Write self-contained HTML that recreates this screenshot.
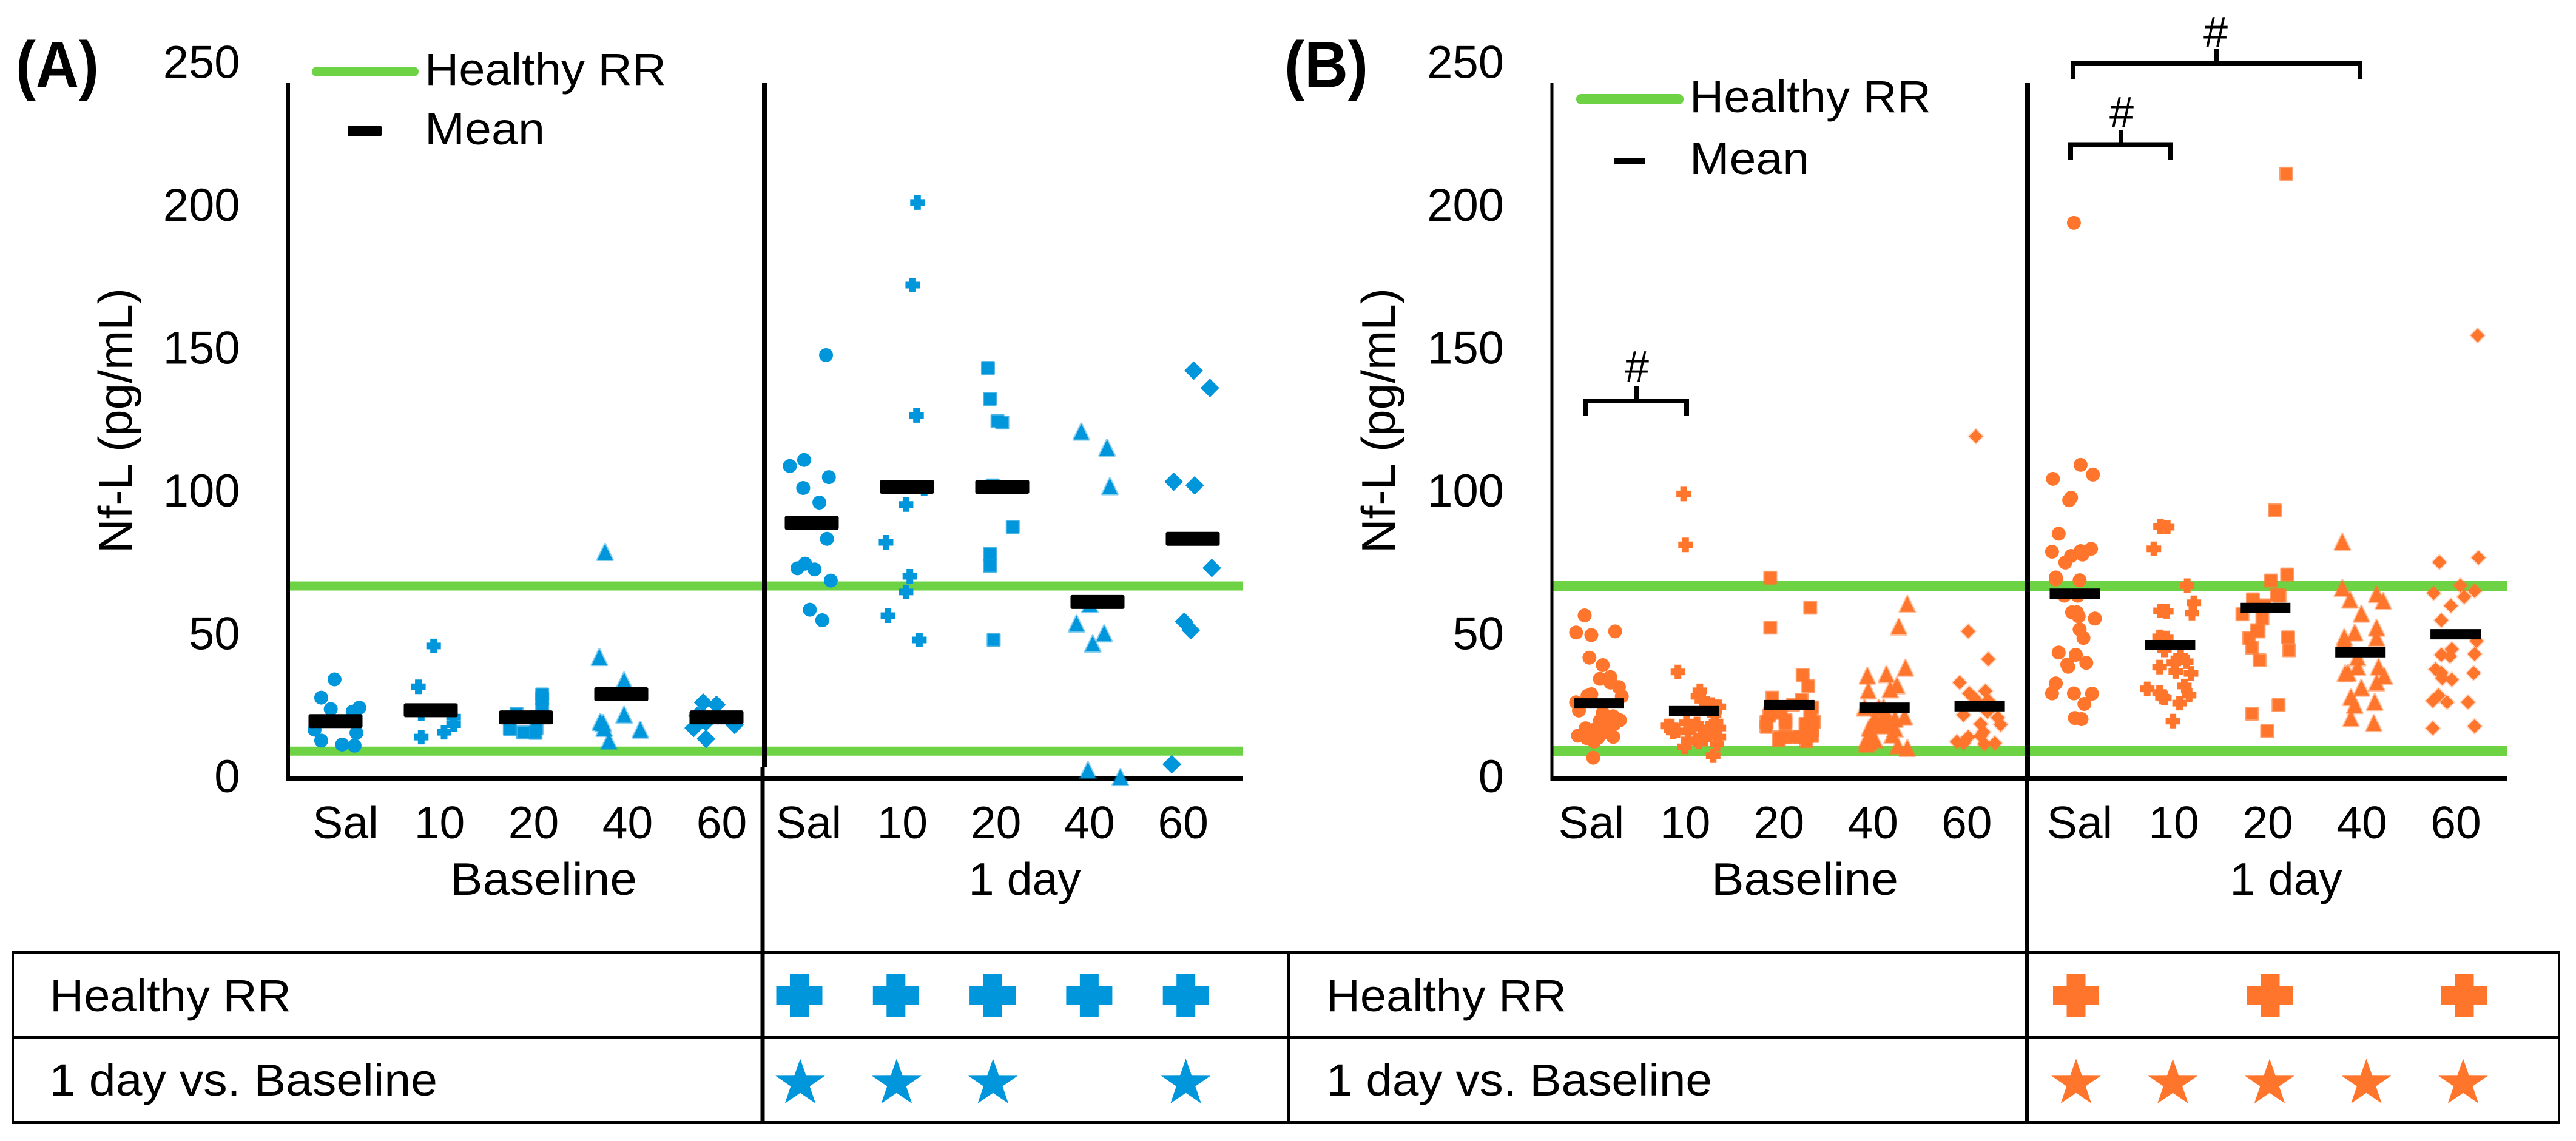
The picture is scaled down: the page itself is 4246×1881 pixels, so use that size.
<!DOCTYPE html>
<html lang="en">
<head>
<meta charset="utf-8">
<title>Nf-L (pg/mL) at baseline and 1 day</title>
<style>
html,body{margin:0;padding:0;background:#fff;}
svg{display:block;}
text{font-family:"Liberation Sans",sans-serif;fill:#000;}
</style>
</head>
<body>
<svg id="figure" xmlns="http://www.w3.org/2000/svg" width="4246" height="1881" viewBox="0 0 4246 1881">
<rect x="0" y="0" width="4246" height="1881" fill="#fff"/>
<g id="gridLayer"></g>
<g id="axisLayer"></g>
<g id="markLayer"></g>
<g id="meanLayer"></g>

<text x="26" y="143.5" font-size="108" font-weight="700" textLength="137" lengthAdjust="spacingAndGlyphs">(A)</text>
<text x="2117" y="143.5" font-size="108" font-weight="700" textLength="138" lengthAdjust="spacingAndGlyphs">(B)</text>
<text transform="translate(217,693.5) rotate(-90)" text-anchor="middle" font-size="78" textLength="437" lengthAdjust="spacingAndGlyphs">Nf-L (pg/mL)</text>
<text transform="translate(2299,693.5) rotate(-90)" text-anchor="middle" font-size="78" textLength="437" lengthAdjust="spacingAndGlyphs">Nf-L (pg/mL)</text>

<text x="896" y="1475" text-anchor="middle" font-size="75" textLength="308" lengthAdjust="spacingAndGlyphs">Baseline</text>
<text x="1689" y="1475" text-anchor="middle" font-size="75" textLength="185" lengthAdjust="spacingAndGlyphs">1 day</text>
<text x="2975" y="1475" text-anchor="middle" font-size="75" textLength="308" lengthAdjust="spacingAndGlyphs">Baseline</text>
<text x="3768" y="1475" text-anchor="middle" font-size="75" textLength="185" lengthAdjust="spacingAndGlyphs">1 day</text>

<g>
<rect x="514" y="110" width="176" height="16" rx="8" fill="#6ED344"/>
<text x="700" y="140" font-size="74" textLength="398" lengthAdjust="spacingAndGlyphs">Healthy RR</text>
<rect x="573" y="207" width="56" height="18" rx="3" fill="#000"/>
<text x="700" y="238" font-size="74" textLength="198" lengthAdjust="spacingAndGlyphs">Mean</text>
</g>
<g>
<rect x="2598" y="155" width="177" height="17" rx="8" fill="#6ED344"/>
<text x="2785" y="185" font-size="74" textLength="398" lengthAdjust="spacingAndGlyphs">Healthy RR</text>
<rect x="2661" y="260" width="50" height="10" fill="#000"/>
<text x="2785" y="287" font-size="74" textLength="197" lengthAdjust="spacingAndGlyphs">Mean</text>
</g>

<g>
<path d="M2614 686V661H2780V686M2697 661V636.5" fill="none" stroke="#000" stroke-width="8"/>
<text x="2698" y="629" text-anchor="middle" font-size="72">#</text>
<path d="M3417 130V105H3890V130M3653 105V81" fill="none" stroke="#000" stroke-width="8"/>
<text x="3652" y="78" text-anchor="middle" font-size="72">#</text>
<path d="M3413 263V238.5H3578V263M3496 238.5V214" fill="none" stroke="#000" stroke-width="8"/>
<text x="3497" y="210" text-anchor="middle" font-size="72">#</text>
</g>

<g>
<rect x="21" y="1568" width="4199" height="5" fill="#000"/>
<rect x="21" y="1708" width="4199" height="5" fill="#000"/>
<rect x="21" y="1848" width="4199" height="5" fill="#000"/>
<rect x="20" y="1568" width="3" height="285" fill="#000"/>
<rect x="2121" y="1568" width="5" height="285" fill="#000"/>
<rect x="4216" y="1568" width="4" height="285" fill="#000"/>
<text x="82" y="1667" font-size="74" textLength="398" lengthAdjust="spacingAndGlyphs">Healthy RR</text>
<text x="81" y="1806" font-size="74" textLength="640" lengthAdjust="spacingAndGlyphs">1 day vs. Baseline</text>
<text x="2186" y="1667" font-size="74" textLength="396" lengthAdjust="spacingAndGlyphs">Healthy RR</text>
<text x="2186" y="1806" font-size="74" textLength="636" lengthAdjust="spacingAndGlyphs">1 day vs. Baseline</text>
<g id="tableIcons"></g>
</g>

<rect x="1256" y="137" width="8" height="1128" fill="#000"/>
<rect x="1253.5" y="1264" width="7" height="588" fill="#000"/>
<rect x="3338" y="137" width="8" height="1150" fill="#000"/>
<rect x="3338" y="1287" width="7" height="565" fill="#000"/>
</svg>

<script>
// ---------- shared data ----------
const categories = ['Sal', '10', '20', '40', '60'];
const tickValues = [0, 50, 100, 150, 200, 250];
const healthyRange = [9.5, 67.3];
const shapes = ['circle', 'cross', 'square', 'triangle', 'diamond'];

// ---------- panel A means ----------
const meansA = [20, 23.8, 21.3, 29.4, 21.3, 89.4, 102, 102, 61.7, 83.8];
// ---------- panel B means ----------
const meansB = [26.2, 23.5, 25.6, 24.7, 25.2, 64.6, 46.6, 59.6, 44.1, 50.4];

// ---------- panel A values (pg/mL) and horizontal jitter (% of category band) ----------
const aBaseSalVal = [34.6,28.2,24.2,24.7,23.3,17,15.9,13.2,11.8,11.4];
const aBaseSalJit = [-1,-15,-5,25,18,-22,22,-15,7,20];
const aBase10Val = [46.3,32,14.4,16.1,18.8,21.4,22.6];
const aBase10Jit = [3,-13,-10,14,24,24,-10];
const aBase20Val = [29.3,27.8,24.4,22.5,17.3,16,15.9,17.6,21.5];
const aBase20Jit = [17,17,17,-10,-17,-3,10,11,11];
const aBase40Val = [42.4,34.2,22.2,17,19.7,19.3,17.6,13,79.2];
const aBase40Jit = [-23,3,3,20,-22,-19,-18,-13,-17];
const aBase60Val = [26.5,25.7,21.9,17.6,13.8,18.7,19.7];
const aBase60Jit = [-14,0,-20,-24,-11,19,-11];
const aDaySalVal = [148.1,111.4,109.3,105.4,101.6,96.5,83.8,73.5,75.1,73.1,69.2,59,55.3];
const aDaySalJit = [15,-8,-23,18,-9,8,16,-15,-7,3,20,-2,11];
const aDay10Val = [201.5,172.6,127,101.3,95.8,82.6,70.7,65.2,56.9,48.4];
const aDay10Jit = [11,6,10,18,-1,-22,3,-1,-20,13];
const aDay20Val = [143.6,132.8,125,124.5,102.5,88,78.5,74.3,48.4];
const aDay20Jit = [-15,-13,-5,0,-10,11,-13,-13,-9];
const aDay40Val = [121.3,115.7,102.2,60.9,54.1,50.7,47.1,2.8,0.4];
const aDay40Jit = [-17,10,13,-8,-22,7,-5,-10,24];
const aDay60Val = [142.7,136.6,103.8,102.5,73.6,54.8,51.8,4.9];
const aDay60Jit = [1,18,-20,2,20,-9,-2,-22];

// ---------- panel B values and jitter ----------
const bBaseSalVal = [57,51,50.1,51.4,42.2,39.6,34.8,35.4,33.5,31.9,28.7,28.9,29.4,26.6,23.7,22.9,21.7,20.3,20.1,19,17.5,16.9,17.6,14.9,14.1,14.5,12.9,7.2,14.1,16.2,20.5,15.5];
const bBaseSalJit = [-15,-24,-8,17,-10,4,1,12,12,21,24,-12,-8,-24,-21,4,15,22,1,16,-14,-6,3,-22,-13,15,-5,-6,-1,7,11,-5];
const bBase10Val = [99.5,81.7,37.2,30.6,28.7,27.5,25.8,25,22.2,19.7,18.3,16.6,19.4,19,17.6,17.6,16.2,15.5,14.4,13.4,13.4,13.7,11,12,7.9,18.3,16.2,18.3,17.6,12.7,25,17.6,14.4];
const bBase10Jit = [-11,-9,-17,6,4,9,18,23,21,23,-24,-18,-8,3,7,23,-6,13,23,2,-6,11,-10,24,20,-28,-22,-1,15,5,26,26,26];
const bBase20Val = [70.2,59.7,52.7,36.2,32.3,28.2,27.5,24.8,22.9,21.9,20.4,18,19,16.9,14.4,14.4,14.4,14.8,13,13.4,19.1,19.7,22.9,14.4,14.4,19.7,25.8,22.9,17];
const bBase20Jit = [-20,22,-20,14,20,-18,13,24,22,-21,-4,-24,17,24,-10,4,17,24,18,-11,-4,-24,-20,-4,11,26,4,-9,20];
const bBase40Val = [61,53.1,38.7,35.9,36.4,32.5,30.7,31.1,24.7,24.7,24.7,21.2,21.2,21.5,20.8,17.6,18.3,17.3,15.1,13.4,13.4,12,11.3,10.6,14.8,19.7,20.5,19,12.7];
const bBase40Jit = [24,15,22,-18,2,13,-17,6,-21,-6,-1,-10,3,21,11,-16,-3,11,8,-19,-10,-19,14,24,-16,-10,-3,6,-16];
const bBase60Val = [119.7,51.4,41.7,33.5,29.7,30.5,26.8,27.2,22.2,23.3,21.2,19,18.8,16.2,12.8,14.4,12.3,12,12.3,28.2,14.8];
const bBase60Jit = [-4,-12,9,-21,-11,6,-3,9,-17,8,19,1,22,4,-24,-12,-17,5,16,-6,1];
const bDaySalVal = [194.4,109.7,106.3,104.8,98.2,97.3,85.6,79.3,80.3,79.5,78.3,77.8,75.5,70.3,69.6,69.3,63.9,63.9,58.1,58.1,56.7,55.9,52.1,49.1,44,43.2,40.4,39.8,39,33.2,29.7,29.7,29.6,26,21.1,20.7];
const bDaySalJit = [-1,6,19,-23,-4,-6,-17,-24,17,6,8,-4,-10,-20,-20,5,-11,3,-3,2,4,21,5,9,-17,1,12,-8,-7,-20,-24,-1,18,10,0,7];
const bDay10Val = [88.1,87.9,80.3,67.4,61.4,57.8,58.6,58.4,49.5,49.1,44.9,42.7,40.8,40.4,38.9,37.4,36.7,32.3,31.3,30,28.4,29.1,28.1,26.3,20];
const bDay10Jit = [-10,-3,-17,18,25,23,-10,-4,-11,-4,-6,11,17,4,-11,6,22,15,-24,-11,-8,20,-6,10,3];
const bDay20Val = [211.6,93.8,71.3,69.2,63.9,62.6,60.5,57.4,55.9,64,51.8,49.1,45.7,41.3,49.3,44.8,25.6,22.6,16.5,51.4];
const bDay20Jit = [22,10,23,6,15,-13,-1,-24,-3,12,-9,-17,-14,-6,24,25,14,-14,2,-7];
const bDay40Val = [82.8,66.5,62.5,64.5,62,57.6,52.7,51,49.3,49.1,48,42.3,38.9,38.9,35.8,36.7,36.9,33.5,31.7,28.4,26.7,25.6,21,19.3];
const bDay40Jit = [-19,-19,-11,17,24,1,17,-6,-17,17,-17,-3,19,-3,25,-16,-13,17,1,-10,15,-6,-10,14];
const bDay60Val = [155,75.6,77.2,67.5,64.8,65.6,63.5,60.4,55.3,48,45.2,43.5,43.2,42.7,38.1,36.9,35,36.8,34.5,29,27.1,26.6,26.6,17.5,18.2];
const bDay60Jit = [23,-17,24,5,-23,20,9,-5,-15,22,-4,20,-15,-6,-21,-15,-14,19,-4,-18,-24,-9,13,-24,20];

const groupValuesA = [aBaseSalVal,aBase10Val,aBase20Val,aBase40Val,aBase60Val,aDaySalVal,aDay10Val,aDay20Val,aDay40Val,aDay60Val];
const groupJitterA = [aBaseSalJit,aBase10Jit,aBase20Jit,aBase40Jit,aBase60Jit,aDaySalJit,aDay10Jit,aDay20Jit,aDay40Jit,aDay60Jit];
const groupValuesB = [bBaseSalVal,bBase10Val,bBase20Val,bBase40Val,bBase60Val,bDaySalVal,bDay10Val,bDay20Val,bDay40Val,bDay60Val];
const groupJitterB = [bBaseSalJit,bBase10Jit,bBase20Jit,bBase40Jit,bBase60Jit,bDaySalJit,bDay10Jit,bDay20Jit,bDay40Jit,bDay60Jit];

// significance flags per 1-day category (1 = symbol shown)
const healthyFlagsA = [1,1,1,1,1];
const changeFlagsA = [1,1,1,0,1];
const healthyFlagsB = [1,0,1,0,1];
const changeFlagsB = [1,1,1,1,1];

// ---------- scales ----------
const NS = 'http://www.w3.org/2000/svg';
const AXIS_ZERO = 1283;
const PX_PER_UNIT = 4.71;
function yScale(v) { return AXIS_ZERO - v * PX_PER_UNIT; }

function make(tag, attrs, parent) {
  const el = document.createElementNS(NS, tag);
  for (const k in attrs) el.setAttribute(k, attrs[k]);
  parent.appendChild(el);
  return el;
}

function drawMark(shape, cx, cy, color, parent, strokeScale) {
  let el;
  if (shape === 'circle') {
    el = make('circle', {cx: cx, cy: cy, r: 11.5, fill: color}, parent);
  } else if (shape === 'cross') {
    const a = 12, b = 5.5;
    const d = 'M' + (cx-b) + ' ' + (cy-a) + 'H' + (cx+b) + 'V' + (cy-b) + 'H' + (cx+a) + 'V' + (cy+b) + 'H' + (cx+b) + 'V' + (cy+a) + 'H' + (cx-b) + 'V' + (cy+b) + 'H' + (cx-a) + 'V' + (cy-b) + 'H' + (cx-b) + 'Z';
    el = make('path', {d: d, fill: color}, parent);
  } else if (shape === 'square') {
    el = make('rect', {x: cx-9.5, y: cy-9.5, width: 19, height: 19, fill: color, stroke: color, 'stroke-opacity': 0.7, 'stroke-width': 4, 'stroke-linejoin': 'round', 'paint-order': 'stroke'}, parent);
  } else if (shape === 'triangle') {
    const pts = cx + ',' + (cy-13) + ' ' + (cx+12.5) + ',' + (cy+13) + ' ' + (cx-12.5) + ',' + (cy+13);
    el = make('polygon', {points: pts, fill: color, stroke: color, 'stroke-opacity': 0.45, 'stroke-width': 4, 'stroke-linejoin': 'round', 'paint-order': 'stroke'}, parent);
  } else {
    const r = strokeScale ? 11.5 : 14;
    const pts = cx + ',' + (cy-r) + ' ' + (cx+r) + ',' + cy + ' ' + cx + ',' + (cy+r) + ' ' + (cx-r) + ',' + cy;
    el = make('polygon', {points: pts, fill: color, stroke: color, 'stroke-opacity': strokeScale ? 0.25 : 1, 'stroke-width': strokeScale ? 4 : 2, 'stroke-linejoin': 'round', 'paint-order': 'stroke'}, parent);
  }
  return el;
}

function drawPanel(p) {
  const gridLayer = document.getElementById('gridLayer');
  const axisLayer = document.getElementById('axisLayer');
  const markLayer = document.getElementById('markLayer');
  const meanLayer = document.getElementById('meanLayer');
  const xScale = function (i) { return p.xStart + p.band * i; };

  healthyRange.forEach(function (v) {
    const line = make('rect', {x: p.axisLeft, y: yScale(v) - p.greenH / 2, width: p.axisRight - p.axisLeft, height: p.greenH, fill: '#6ED344'}, gridLayer);
    
    
  });

  const yAxis = make('rect', {x: p.axisLeft - p.axisW / 2, y: 137, width: p.axisW, height: 1150, fill: '#000'}, axisLayer);
  
  
  const xAxis = make('rect', {x: p.axisLeft, y: 1279, width: p.axisRight - p.axisLeft, height: 8, fill: '#000'}, axisLayer);
  
  

  tickValues.forEach(function (v) {
    const t = make('text', {x: p.tickX, y: yScale(v) + 23, 'text-anchor': 'end', 'font-size': 76}, axisLayer);
    t.textContent = String(v);
    
    
  });

  [p.labelBase, p.labelDay].forEach(function (lab) {
    categories.forEach(function (c, i) {
      const t = make('text', {x: lab[0] + lab[1] * i, y: 1382, 'text-anchor': 'middle', 'font-size': 75}, axisLayer);
      t.textContent = c;
      
      
    });
  });

  p.values.forEach(function (vals, g) {
    const shape = shapes[g % 5];
    const jit = p.jitter[g];
    vals.forEach(function (v, k) {
      const cx = xScale(g) + (jit[k] || 0) * p.band / 100;
      const mark = drawMark(shape, cx, yScale(v), p.color, markLayer, p.lightDiamond);
      
      
    });
  });

  p.means.forEach(function (m, g) {
    const bar = make('rect', {x: xScale(g) - p.meanW / 2, y: yScale(m) - p.meanH / 2, width: p.meanW, height: p.meanH, rx: p.meanR, fill: '#000'}, meanLayer);
    
    
  });
}

drawPanel({
  values: groupValuesA, jitter: groupJitterA, means: meansA, color: '#0096DC',
  xStart: 553, band: 157, axisLeft: 475, axisRight: 2049, axisW: 6, greenH: 15, tickX: 395.5,
  labelBase: [569.5, 155], labelDay: [1333, 154.3], meanW: 89, meanH: 23, meanR: 3, lightDiamond: false
});
drawPanel({
  values: groupValuesB, jitter: groupJitterB, means: meansB, color: '#FF752B',
  xStart: 2635.5, band: 156.9, axisLeft: 2558, axisRight: 4132, axisW: 5, greenH: 17, tickX: 2479,
  labelBase: [2623, 154.7], labelDay: [3428, 155], meanW: 83, meanH: 17, meanR: 0, lightDiamond: true
});

// ---------- table icons ----------
function drawPlus(cx, cy, color, parent) {
  const a = 38, b = 15.5, h = 36;
  const d = 'M' + (cx-b) + ' ' + (cy-h) + 'H' + (cx+b) + 'V' + (cy-b) + 'H' + (cx+a) + 'V' + (cy+b) + 'H' + (cx+b) + 'V' + (cy+h) + 'H' + (cx-b) + 'V' + (cy+b) + 'H' + (cx-a) + 'V' + (cy-b) + 'H' + (cx-b) + 'Z';
  return make('path', {d: d, fill: color}, parent);
}
function drawStar(cx, cy, color, parent) {
  const pts = [];
  for (let i = 0; i < 10; i++) {
    const r = i % 2 ? 16.5 : 43;
    const ang = -Math.PI / 2 + i * Math.PI / 5;
    pts.push((cx + r * Math.cos(ang)).toFixed(1) + ',' + (cy + r * Math.sin(ang) * 0.95).toFixed(1));
  }
  return make('polygon', {points: pts.join(' '), fill: color}, parent);
}
const iconLayer = document.getElementById('tableIcons');
function iconColumn(i, start, step) { return start + step * i; }
healthyFlagsA.forEach(function (f, i) {
  if (!f) return;
  const el = drawPlus(iconColumn(i, 1317.5, 159.3), 1641, '#0096DC', iconLayer);
  
  
});
changeFlagsA.forEach(function (f, i) {
  if (!f) return;
  const el = drawStar(iconColumn(i, 1319, 158.9), 1786, '#0096DC', iconLayer);
  
  
});
healthyFlagsB.forEach(function (f, i) {
  if (!f) return;
  const el = drawPlus(iconColumn(i, 3422, 160), 1641, '#FF752B', iconLayer);
  
  
});
changeFlagsB.forEach(function (f, i) {
  if (!f) return;
  const el = drawStar(iconColumn(i, 3422, 159.5), 1786, '#FF752B', iconLayer);
  
  
});
</script>
</body>
</html>
